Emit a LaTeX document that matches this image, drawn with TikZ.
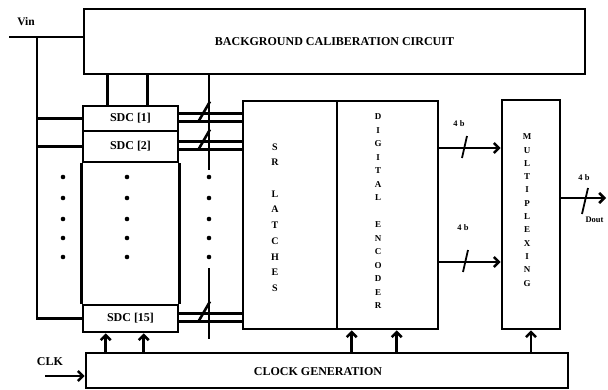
\documentclass[tikz,border=0pt]{standalone}
\usepackage{fontspec}
\setmainfont{Liberation Serif}
\usetikzlibrary{arrows.meta}

\tikzset{
  blk/.style={draw, line width=2.6pt, inner sep=0pt, font=\bfseries\fontsize{12}{14}\selectfont},
  bus/.style={line width=2.6pt},
  sig/.style={line width=2.6pt, -{Straight Barb[length=5pt,width=10pt]}},
  vtxt/.style={align=center, inner sep=0pt, font=\bfseries\fontsize{9}{13.5}\selectfont},
  lbl/.style={font=\bfseries\fontsize{12}{14}\selectfont},
  bits/.style={font=\bfseries\fontsize{8.5}{10}\selectfont},
}

\begin{document}
\begin{tikzpicture}[x=1pt,y=-1pt]
    \useasboundingbox (0,0) rectangle (608,389);

    % blocks
    \node[blk, minimum width=501pt, minimum height=65pt] (bgc) at (334.5,41.5) {BACKGROUND CALIBERATION CIRCUIT};
    \node[blk, minimum width=95pt, minimum height=25pt] (sdca) at (130.5,118.5) {SDC [1]};
    \node[blk, minimum width=95pt, minimum height=31pt] (sdcb) at (130.5,146.5) {SDC [2]};
    \node[blk, minimum width=95pt, minimum height=27pt] (sdco) at (130.5,318.5) {SDC [15]};
    \draw[bus] (sdcb.south west) -- (sdco.north west);
    \draw[bus] (sdcb.south east) -- (sdco.north east);
    \node[blk, minimum width=94pt, minimum height=228pt] (srl) at (290,215) {};
    \node[blk, minimum width=101pt, minimum height=228pt] (enc) at (387.5,215) {};
    \node[blk, minimum width=58pt, minimum height=229pt] (mux) at (531,214.5) {};
    \node[blk, minimum width=482pt, minimum height=35pt] (clk) at (327,370.5) {};

    % texts in the blocks
    \node[vtxt, font=\bfseries\fontsize{10}{15.7}\selectfont] (srtxt) at (275,217.5) {S\\R\\\mbox{}\\L\\A\\T\\C\\H\\E\\S};
    \node[vtxt] (enctxt) at (378,211.5) {D\\I\\G\\I\\T\\A\\L\\\mbox{}\\E\\N\\C\\O\\D\\E\\R};
    \node[vtxt, font=\bfseries\fontsize{9}{13.3}\selectfont] (muxtxt) at (527,210) {M\\U\\L\\T\\I\\P\\L\\E\\X\\I\\N\\G};
    \node[lbl] (clktxt) at (318,372) {CLOCK GENERATION};

    % input Vin
    \node[lbl, font=\bfseries\fontsize{11.5}{14}\selectfont] (vinlbl) at (26,22) {Vin};
    \coordinate (vin) at (9,37);
    \coordinate (vtap) at (37,37);
    \draw[bus] (vin) -- (vin -| bgc.west);
    \draw[bus] (vtap) -- (vtap |- sdco.west) -- (sdco.west);
    \draw[bus] (vtap |- sdca.west) -- (sdca.west);
    \draw[bus] (vtap |- sdcb.west) -- (sdcb.west);

    % calibration links
    \foreach \dx in {26,66} {
        \path ([xshift=\dx pt]sdca.north west) coordinate (c);
        \draw[bus] (c) -- (c |- bgc.south);
    }
    \coordinate (busa) at (209,170);
    \coordinate (busb) at (209,268);
    \coordinate (busc) at (209,339);
    \draw[bus] (busa |- bgc.south) -- (busa);
    \draw[bus] (busb) -- (busc);

    % SDC outputs to SR latches
    \foreach \n in {sdca,sdcb,sdco} {
        \foreach \s in {5pt,-3pt} {
            \path ([yshift=\s]\n.east) coordinate (p);
            \draw[bus] (p) -- (p -| srl.west);
        }
        \path (\n.east -| busa) coordinate (s);
        \draw[bus] ([shift={(-10pt,-2pt)}]s) -- ([shift={(1pt,17pt)}]s);
    }

    % dots
    \foreach \y in {177,198,219,238,257}
        \foreach \x in {63,127,209}
            \fill (\x,\y) circle (2.3pt);

    % encoder to multiplexer
    \path ([yshift=67pt]enc.east) coordinate (ea);
    \path ([yshift=-47pt]enc.east) coordinate (eb);
    \draw[sig] (ea) -- (ea -| mux.west);
    \draw[sig] (eb) -- (eb -| mux.west);
    \draw[bus, line width=1.8pt] (462,158) -- (467,136);
    \draw[bus, line width=1.8pt] (463,272) -- (468,250);
    \node[bits] (bta) at (459,124) {4 b};
    \node[bits] (btb) at (463,228) {4 b};

    % output
    \path ([yshift=16.5pt]mux.east) coordinate (o);
    \coordinate (dout) at (606,198);
    \draw[sig] (o) -- (dout);
    \draw[bus, line width=1.8pt] (582,214) -- (588,188);
    \node[bits] (btc) at (584,178) {4 b};
    \node[bits, anchor=east] (doutlbl) at (607,220) {Dout};

    % clock
    \node[lbl] (clklbl) at (50,362) {CLK};
    \coordinate (clkin) at (45,376);
    \draw[sig] (clkin) -- (clkin -| clk.west);
    \path ([xshift=24pt]sdco.south west) coordinate (k1);
    \path ([xshift=62pt]sdco.south west) coordinate (k2);
    \path ([xshift=16pt]enc.south west) coordinate (k3);
    \path ([xshift=61pt]enc.south west) coordinate (k4);
    \foreach \k in {k1,k2,k3,k4}
        \draw[sig] (\k |- clk.north) -- (\k);
    \draw[sig] (mux.south |- clk.north) -- (mux.south);
\end{tikzpicture}
\end{document}
